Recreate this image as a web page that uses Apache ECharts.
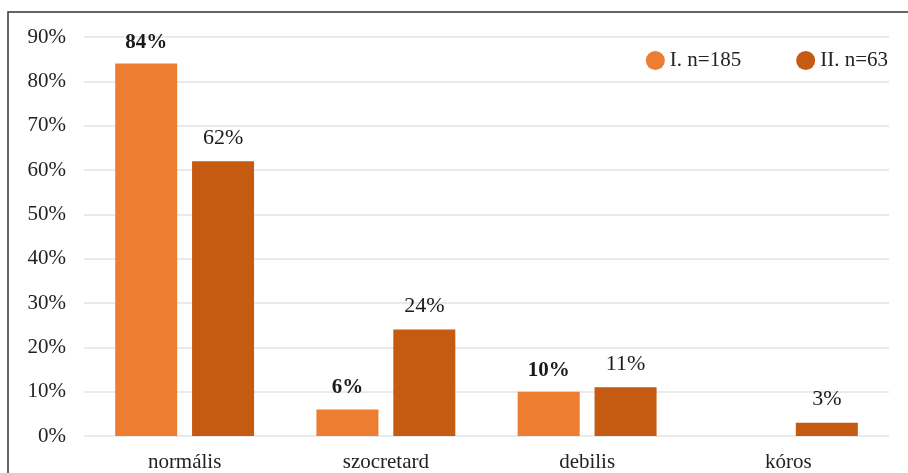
<!DOCTYPE html>
<html><head><meta charset="utf-8">
<script src="https://cdn.jsdelivr.net/npm/echarts@6/dist/echarts.min.js"></script>
<style>html,body{margin:0;padding:0;background:#fff}#c{width:908px;height:473px}</style>
</head><body><div id="c"></div>
<script>
const categories = ['normális', 'szocretard', 'debilis', 'kóros'];
const seriesNames = ['I. n=185', 'II. n=63'];
const valuesI = [84, 6, 10, null];
const valuesII = [62, 24, 11, 3];
const colors = ['#ED7D31', '#C55A11'];
const font = 'Liberation Serif';

const chart = echarts.init(document.getElementById('c'));
chart.setOption({
  animation: false,
  graphic: [{type: 'rect', shape: {x: 8, y: 12, width: 1200, height: 1200}, style: {fill: 'none', stroke: '#333', lineWidth: 1.5}}],
  legend: {
    right: 15, top: 45, icon: 'circle', itemWidth: 19, itemHeight: 19, itemGap: 55,
    textStyle: {fontFamily: font, fontSize: 21, color: '#222'},
    data: seriesNames
  },
  grid: {left: 84, right: 19, top: 37, bottom: 37},
  xAxis: {
    type: 'category', data: categories,
    axisLine: {show: false}, axisTick: {show: false},
    axisLabel: {fontFamily: font, fontSize: 21, color: '#222', margin: 16}
  },
  yAxis: {
    type: 'value', min: 0, max: 90, interval: 10,
    axisLabel: {formatter: '{value}%', fontFamily: font, fontSize: 21, color: '#222', margin: 18},
    splitLine: {lineStyle: {color: '#e3e3e3', width: 1.5}}
  },
  series: [
    {name: seriesNames[0], type: 'bar', data: valuesI, barWidth: 62, barGap: '24%',
     itemStyle: {color: colors[0]},
     label: {show: true, position: 'top', distance: 11, formatter: '{c}%', fontFamily: font, fontSize: 21, fontWeight: 'bold', color: '#1a1a1a'}},
    {name: seriesNames[1], type: 'bar', data: valuesII, barWidth: 62,
     itemStyle: {color: colors[1]},
     label: {show: true, position: 'top', distance: 12, formatter: '{c}%', fontFamily: font, fontSize: 22, color: '#1a1a1a'}}
  ]
});
</script></body></html>
